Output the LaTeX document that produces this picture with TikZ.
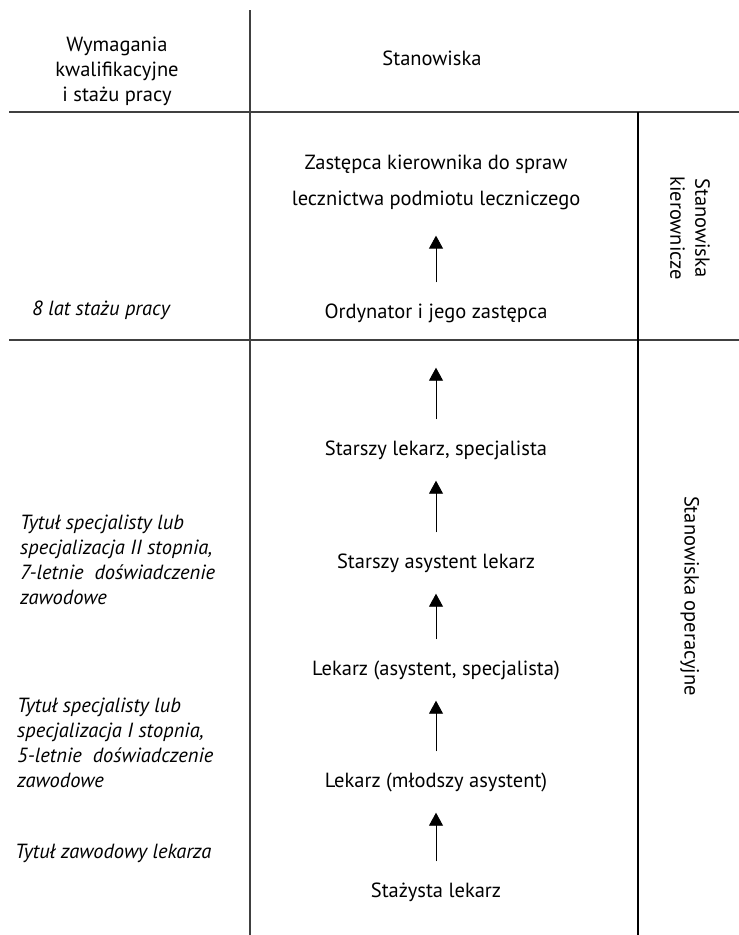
\documentclass[tikz,border=0pt]{standalone}
\usepackage{fontspec}
\setmainfont{PT Sans}
\usetikzlibrary{arrows.meta}

\begin{document}
\begin{tikzpicture}[x=1pt,y=-1pt]
    \tikzstyle{linia}=[line width=1.3pt,black!75]
    \tikzstyle{stan}=[inner sep=0pt,text height=16pt,text depth=5pt,
        align=center,font=\fontsize{20.5}{36}\selectfont]
    \tikzstyle{wym}=[inner sep=0pt,anchor=west,align=left,
        font=\fontsize{20.5}{25}\selectfont\itshape]
    \tikzstyle{krok}=[-{Triangle[length=13pt,width=14pt]},line width=0.9pt,
        shorten <=20pt,shorten >=20pt]
    \useasboundingbox (0,0) rectangle (739,935);
    % Table lines
    \draw[linia] (250,10) -- (250,935);
    \draw[linia] (9,112) -- (739,112);
    \draw[linia] (9,340) -- (739,340);
    \draw[linia,black] (638,112) -- (638,935);
    % Header
    \node[stan,text height=,text depth=,font=\fontsize{20.5}{25}\selectfont] (wymag) at (117,71)
        {Wymagania\\kwalifikacyjne\\i stażu pracy};
    \node[stan] (stanow) at (432,60) {Stanowiska};
    % Side labels
    \node[stan,rotate=-90,text height=,text depth=,font=\fontsize{20.5}{25}\selectfont] (kier) at (690,228)
        {Stanowiska\\kierownicze};
    \node[stan,rotate=-90] (oper) at (690,596) {Stanowiska operacyjne};
    % Positions
    \node[stan,text height=,text depth=] (zast) at (436,182) {Zastępca kierownika do spraw\\lecznictwa podmiotu leczniczego};
    \node[stan] (ordy) at (436,313) {Ordynator i jego zastępca};
    \node[stan] (slek) at (436,450) {Starszy lekarz, specjalista};
    \node[stan] (sasys) at (436,563) {Starszy asystent lekarz};
    \node[stan] (asys) at (436,670) {Lekarz (asystent, specjalista)};
    \node[stan] (mlod) at (436,782) {Lekarz (młodszy asystent)};
    \node[stan] (staz) at (436,892) {Stażysta lekarz};
    % Requirements
    \node[wym] (lat8) at (32,310) {8 lat stażu pracy};
    \node[wym] (spec2) at (20,560) {Tytuł specjalisty lub\\specjalizacja II stopnia,\\7-letnie~ doświadczenie\\zawodowe};
    \node[wym] (spec1) at (17,743) {Tytuł specjalisty lub\\specjalizacja I stopnia,\\5-letnie~ doświadczenie\\zawodowe};
    \node[wym] (tytul) at (15,853) {Tytuł zawodowy lekarza};
    % Arrows
    \foreach \a/\b in {staz/mlod,mlod/asys,asys/sasys,sasys/slek}
        \draw[krok] (\a) -- (\b);
    \draw[krok,shorten >=44pt] (slek) -- (ordy);
    \draw[krok,shorten >=26pt] (ordy) -- (zast);
\end{tikzpicture}
\end{document}
